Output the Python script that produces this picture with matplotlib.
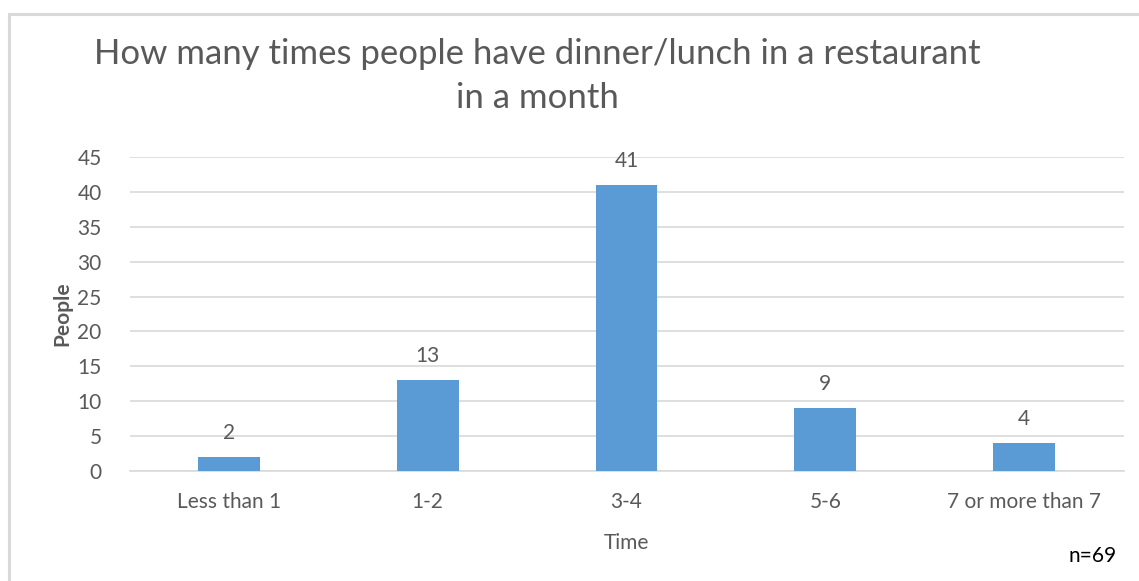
import matplotlib.pyplot as plt
from matplotlib.patches import Rectangle

plt.rcParams['font.family'] = ['Lato', 'DejaVu Sans']

# Chart data
categories = ['Less than 1', '1-2', '3-4', '5-6', '7 or more than 7']
people = [2, 13, 41, 9, 4]
y_ticks = [0, 5, 10, 15, 20, 25, 30, 35, 40, 45]

bar_color = '#5b9bd5'
text_color = '#595959'
grid_color = '#d9d9d9'

fig = plt.figure(figsize=(11.39, 5.81), dpi=100)

# outer chart frame (Excel style)
frame = Rectangle((8.5 / 1139, -0.1), 1.2, 1 - 13.5 / 581 + 0.1,
                  transform=fig.transFigure, fill=False,
                  edgecolor='#d9d9d9', linewidth=2.2)
fig.patches.append(frame)

ax = fig.add_axes([129.5 / 1139, 110 / 581, 994 / 1139, 314 / 581])

x = list(range(len(categories)))
bars = ax.bar(x, people, width=0.31, color=bar_color, zorder=3)

for xi, v in zip(x, people):
    ax.annotate(str(v), (xi, v), xytext=(0, 10), textcoords='offset points',
                ha='center', va='bottom', fontsize=15, color=text_color)

ax.set_xlim(-0.5, len(categories) - 0.5)
ax.set_ylim(0, 45)
ax.set_yticks(y_ticks)
ax.set_xticks(x)
ax.set_xticklabels(categories)
ax.tick_params(axis='both', length=0, labelsize=15, colors=text_color)
ax.tick_params(axis='x', pad=15)
ax.tick_params(axis='y', pad=20)
ax.yaxis.grid(True, color=grid_color, linewidth=1.2, zorder=0)

for s in ['top', 'right', 'left']:
    ax.spines[s].set_visible(False)
ax.spines['bottom'].set_color(grid_color)
ax.spines['bottom'].set_linewidth(1.2)

ax.set_ylabel('People', fontsize=15, color=text_color, fontweight='bold', labelpad=4)
ax.set_xlabel('Time', fontsize=15, color=text_color, labelpad=15)

fig.text(537 / 1139, 1 - 76 / 581,
         'How many times people have dinner/lunch in a restaurant\nin a month',
         ha='center', va='center', fontsize=25, color=text_color,
         linespacing=1.5)

fig.text(1117 / 1139, 1 - 556 / 581, 'n=69', ha='right', va='center',
         fontsize=15, color='black')

fig.savefig('out.png', dpi=100)
